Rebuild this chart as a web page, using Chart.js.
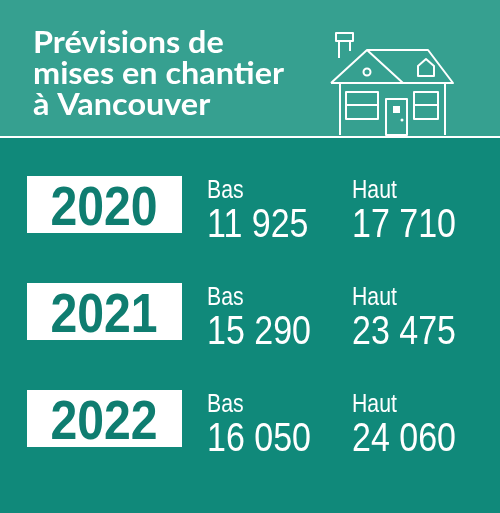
<!DOCTYPE html>
<html><head><meta charset="utf-8">
<script src="https://cdn.jsdelivr.net/npm/chart.js@4"></script>
<style>html,body{margin:0;padding:0;background:#10897a}#c{display:block}</style>
</head><body>
<div style="width:500px;height:513px"><canvas id="c" width="500" height="513"></canvas></div>
<script>
const titleLines = ["Prévisions de", "mises en chantier", "à Vancouver"];
const years = ["2020", "2021", "2022"];
const lowValues = ["11 925", "15 290", "16 050"];
const highValues = ["17 710", "23 475", "24 060"];
const lowLabel = "Bas", highLabel = "Haut";

function narrowText(ctx, t, x, y, sx, align) {
  ctx.save(); ctx.translate(x, y); ctx.scale(sx, 1);
  ctx.textAlign = align || 'left'; ctx.fillText(t, 0, 0); ctx.restore();
}
const draw = {
  id: 'infographic',
  beforeDraw(chart) {
    const ctx = chart.ctx;
    ctx.save();
    ctx.fillStyle = '#10897a'; ctx.fillRect(0,0,500,513);
    ctx.fillStyle = '#36a090'; ctx.fillRect(0,0,500,136);
    ctx.strokeStyle = '#fff'; ctx.lineWidth = 2;
    ctx.beginPath(); ctx.moveTo(0,137); ctx.lineTo(500,137); ctx.stroke();
    ctx.fillStyle = '#fff'; ctx.textBaseline = 'alphabetic';
    ctx.font = 'bold 30px Lato, "Open Sans", sans-serif';
    titleLines.forEach((t,i)=>narrowText(ctx,t,33,53+i*31,1.08));
    ctx.lineWidth = 2; ctx.lineJoin='round';
    ctx.beginPath();
    ctx.rect(336,33,17,8); ctx.moveTo(339,41); ctx.lineTo(339,58); ctx.moveTo(350,41); ctx.lineTo(350,51);
    ctx.moveTo(331,83); ctx.lineTo(367,50); ctx.lineTo(403,83);
    ctx.moveTo(367,50); ctx.lineTo(428,50); ctx.lineTo(453,83); ctx.lineTo(331,83);
    ctx.moveTo(340,83); ctx.lineTo(340,135); ctx.moveTo(445,83); ctx.lineTo(445,135);
    ctx.rect(346,92,32,27); ctx.moveTo(346,105); ctx.lineTo(378,105);
    ctx.rect(414,92,24,27); ctx.moveTo(414,105); ctx.lineTo(438,105);
    ctx.rect(386,99,21,36);
    ctx.moveTo(418,76); ctx.lineTo(418,66); ctx.lineTo(426,59); ctx.lineTo(434,66); ctx.lineTo(434,76); ctx.closePath();
    ctx.stroke();
    ctx.beginPath(); ctx.arc(367,72,3.5,0,Math.PI*2); ctx.stroke();
    ctx.fillStyle='#fff'; ctx.fillRect(393,106,7,7);
    ctx.beginPath(); ctx.arc(402,120,1.5,0,Math.PI*2); ctx.fill();
    years.forEach((y,i)=>{
      const top = 176 + i*107;
      ctx.fillStyle = '#fff'; ctx.fillRect(27,top,155,57);
      ctx.fillStyle = '#0f7d70';
      ctx.font = 'bold 56px "Liberation Sans", sans-serif';
      narrowText(ctx,y,104,top+49,0.86,'center');
      ctx.fillStyle='#fff';
      ctx.font = '25px "Liberation Sans", sans-serif';
      narrowText(ctx,lowLabel,207,top+22,0.85); narrowText(ctx,highLabel,352,top+22,0.85);
      ctx.font = '40px "Liberation Sans", sans-serif';
      narrowText(ctx,lowValues[i],207,top+61,0.85); narrowText(ctx,highValues[i],352,top+61,0.85);
    });
    ctx.restore();
  }
};
new Chart(document.getElementById('c'), {
  type: 'bar',
  data: { labels: years, datasets: [{ data: [], backgroundColor: 'transparent' }] },
  options: { responsive:false, animation:false, events:[],
    plugins:{legend:{display:false},tooltip:{enabled:false}},
    scales:{x:{display:false},y:{display:false}} },
  plugins:[draw]
});
</script></body></html>
